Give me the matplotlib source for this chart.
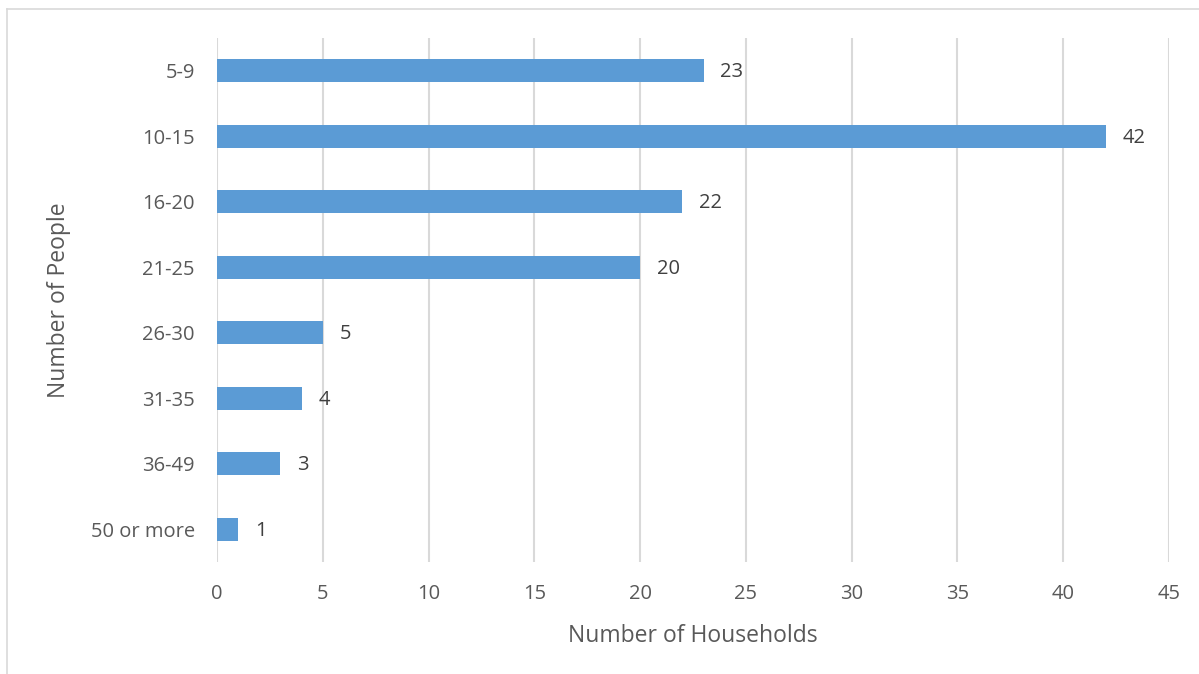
import matplotlib.pyplot as plt
from matplotlib.lines import Line2D

categories = ["5-9", "10-15", "16-20", "21-25", "26-30", "31-35", "36-49", "50 or more"]
households = [23, 42, 22, 20, 5, 4, 3, 1]
xticks = [0, 5, 10, 15, 20, 25, 30, 35, 40, 45]

plt.rcParams['font.family'] = ['Open Sans', 'DejaVu Sans']

fig = plt.figure(figsize=(11.99, 6.74), dpi=100)
ax = fig.add_axes([217/1199, 1 - 562/674, (1169 - 217)/1199, (562 - 38)/674])

ypos = list(range(len(categories)))
ax.barh(ypos, households, height=0.35, color="#5B9BD5", zorder=3)
for y, v in zip(ypos, households):
    ax.annotate(str(v), (v, y), xytext=(12, -1), textcoords="offset points",
                va="center", ha="left", fontsize=14.5, color="#404040")

ax.set_xlim(0, 45)
ax.set_ylim(len(categories) - 0.5, -0.5)
ax.set_xticks(xticks)
ax.set_yticks(ypos)
ax.set_yticklabels(categories)
ax.grid(axis="x", color="#D9D9D9", linewidth=1.5, zorder=0)
for s in ax.spines.values():
    s.set_visible(False)
ax.tick_params(length=0, labelsize=14.5, labelcolor="#595959")
ax.tick_params(axis="x", pad=16)
ax.tick_params(axis="y", pad=16)
ax.set_xlabel("Number of Households", fontsize=16.5, color="#595959", labelpad=14)
ax.set_ylabel("Number of People", fontsize=16.5, color="#595959", labelpad=14)

# chart frame (top and left edges visible)
fig.add_artist(Line2D([7/1199, 1], [1 - 9/674, 1 - 9/674], color="#D9D9D9", lw=1.2))
fig.add_artist(Line2D([7/1199, 7/1199], [0, 1 - 9/674], color="#D9D9D9", lw=1.2))

fig.savefig("out.png", dpi=100)
